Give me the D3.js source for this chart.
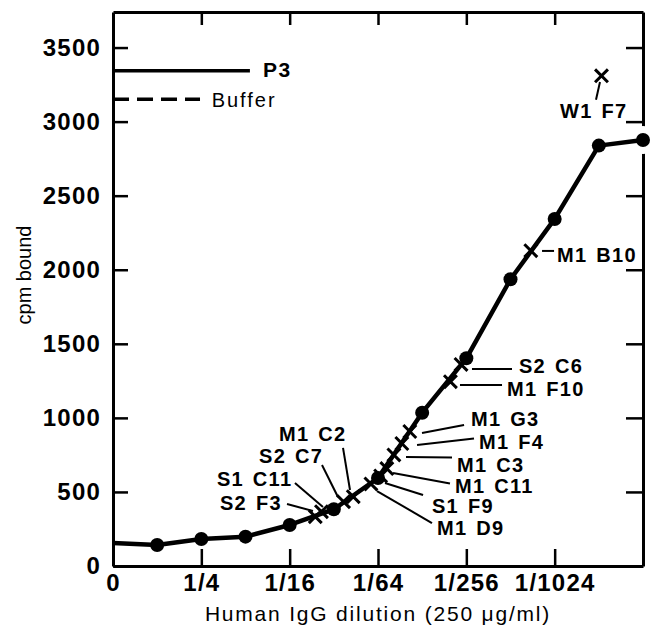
<!DOCTYPE html>
<html>
<head>
<meta charset="utf-8">
<script src="https://cdn.jsdelivr.net/npm/d3@7"></script>
<style>
  body { margin: 0; background: #fff; }
  svg { font-family: "Liberation Sans", Arial, sans-serif; }
</style>
</head>
<body>
<div id="chart"></div>
<script>
// dilution steps: 0 = undiluted, 1 = 1/4, 2 = 1/16 ... (fourfold per step)
var dilStep = [0, 0.5, 1, 1.5, 2, 2.5, 3, 3.5, 4, 4.5, 5, 5.5, 6];
var cpmBound = [155, 142, 182, 198, 277, 383, 594, 1035, 1402, 1936, 2343, 2838, 2876];

var xTickSteps = [0, 1, 2, 3, 4, 5];
var xTickLabels = ["0", "1/4", "1/16", "1/64", "1/256", "1/1024"];
var yTicks = [0, 500, 1000, 1500, 2000, 2500, 3000, 3500];

// hybridoma supernatants (x)
var cloneNames = ["W1 F7", "M1 B10", "S2 C6", "M1 F10", "M1 G3", "M1 F4", "M1 C3",
                  "M1 C11", "S1 F9", "M1 D9", "M1 C2", "S2 C7", "S1 C11", "S2 F3"];
var cloneStep = [5.53, 4.73, 3.94, 3.82, 3.36, 3.27, 3.18, 3.10, 3.03, 2.92, 2.72, 2.61, 2.36, 2.29];
var cloneCpm  = [3309, 2129, 1361, 1244, 908, 827, 750, 658, 608, 554, 468, 434, 367, 333];

// controls
var refNames = ["P3", "Buffer"];
var refCpm = [3344, 3151];

// label layout in data units: text start [step, cpm], leader [from, to]
var labelAt = [[5.06, 3025], [5.027, 2053], [4.596, 1303], [4.461, 1148], [4.053, 942], [4.143, 793],
               [3.894, 635], [3.872, 493], [3.611, 355], [3.668, 209], [1.879, 844], [1.653, 696],
               [1.177, 540], [1.211, 378]];
var leaderFrom = [[5.513, 3268], [4.857, 2127], [4.064, 1330], [3.928, 1222], [3.498, 898], [3.442, 817],
                  [3.317, 736], [3.170, 628], [3.079, 560], [2.989, 506], [2.683, 513], [2.547, 466],
                  [2.377, 398], [2.264, 371]];
var leaderTo = [[5.468, 3147], [4.993, 2127], [4.517, 1330], [4.404, 1222], [3.974, 952], [4.087, 861],
                [3.838, 733], [3.815, 557], [3.510, 479], [3.611, 290], [2.604, 797], [2.366, 682],
                [2.060, 560], [1.970, 419]];
var refEnd = [1.55, 0.985];
var refLabelAt = [[1.698, 3300], [1.117, 3097]];

var W = 652, H = 627;
var x = d3.scaleLinear().domain([0, 6]).range([113, 643]);
var y = d3.scaleLinear().domain([0, 3740]).range([566, 12]);

var svg = d3.select("#chart").append("svg")
    .attr("width", W)
    .attr("height", H);

// axes / frame
var gL = svg.append("g")
    .attr("transform", "translate(" + x(0) + ",0)")
    .call(d3.axisLeft(y).tickValues(yTicks).tickSizeInner(-15).tickSizeOuter(0).tickPadding(12)
      .tickFormat(d3.format("d")));
var gR = svg.append("g")
    .attr("transform", "translate(" + x(6) + ",0)")
    .call(d3.axisRight(y).tickValues(yTicks.slice(1)).tickSizeInner(-17).tickSizeOuter(0).tickFormat(""));
var gB = svg.append("g")
    .attr("transform", "translate(0," + y(0) + ")")
    .call(d3.axisBottom(x).tickValues(xTickSteps).tickSizeInner(-17).tickSizeOuter(0).tickPadding(8)
      .tickFormat(function(d, i) { return xTickLabels[i]; }));
var gT = svg.append("g")
    .attr("transform", "translate(0," + y(3740) + ")")
    .call(d3.axisTop(x).tickValues(xTickSteps.slice(1)).tickSizeInner(-13).tickSizeOuter(0).tickFormat(""));

svg.selectAll(".domain").attr("stroke", "#000").attr("stroke-width", 3);
svg.selectAll(".tick line").attr("stroke", "#000").attr("stroke-width", 2.5);
svg.selectAll(".tick text")
    .attr("fill", "#000")
    .style("font-size", "24px")
    .style("font-weight", "bold")
    .style("letter-spacing", "1.2px");

// gap in the right frame around the last point
svg.append("circle")
    .attr("cx", x(dilStep[dilStep.length - 1]))
    .attr("cy", y(cpmBound[cpmBound.length - 1]))
    .attr("r", 14)
    .attr("fill", "#fff");

// control lines
svg.selectAll(".ref").data(refCpm).enter().append("line")
    .attr("x1", x(0)).attr("x2", function(d, i) { return x(refEnd[i]); })
    .attr("y1", function(d) { return y(d); }).attr("y2", function(d) { return y(d); })
    .attr("stroke", "#000").attr("stroke-width", 3.5)
    .attr("stroke-dasharray", function(d, i) { return i == 1 ? "16,8" : null; });
svg.selectAll(".refLabel").data(refNames).enter().append("text")
    .attr("x", function(d, i) { return x(refLabelAt[i][0]); })
    .attr("y", function(d, i) { return y(refLabelAt[i][1]); })
    .style("font-size", function(d, i) { return i == 0 ? "21px" : "20px"; })
    .style("font-weight", function(d, i) { return i == 0 ? "bold" : "normal"; })
    .style("letter-spacing", function(d, i) { return i == 0 ? "1.5px" : "2px"; })
    .text(function(d) { return d; });

// titration curve
var pts = dilStep.map(function(d, i) { return [d, cpmBound[i]]; });
var line = d3.line()
    .x(function(d) { return x(d[0]); })
    .y(function(d) { return y(d[1]); });
svg.append("path")
    .datum(pts)
    .attr("fill", "none")
    .attr("stroke", "#000")
    .attr("stroke-width", 4.5)
    .attr("stroke-linejoin", "round")
    .attr("d", line);
svg.selectAll(".dot").data(pts.slice(1)).enter().append("circle")
    .attr("cx", function(d) { return x(d[0]); })
    .attr("cy", function(d) { return y(d[1]); })
    .attr("r", 7)
    .attr("fill", "#000");

// clones
var cross = d3.symbol().type(d3.symbolX).size(110);
svg.selectAll(".clone").data(cloneNames).enter().append("path")
    .attr("d", cross)
    .attr("transform", function(d, i) { return "translate(" + x(cloneStep[i]) + "," + y(cloneCpm[i]) + ")"; })
    .attr("fill", "none")
    .attr("stroke", "#000")
    .attr("stroke-width", 3);

svg.selectAll(".leader").data(cloneNames).enter().append("line")
    .attr("x1", function(d, i) { return x(leaderFrom[i][0]); })
    .attr("y1", function(d, i) { return y(leaderFrom[i][1]); })
    .attr("x2", function(d, i) { return x(leaderTo[i][0]); })
    .attr("y2", function(d, i) { return y(leaderTo[i][1]); })
    .attr("stroke", "#000")
    .attr("stroke-width", 2);

svg.selectAll(".cloneLabel").data(cloneNames).enter().append("text")
    .attr("x", function(d, i) { return x(labelAt[i][0]); })
    .attr("y", function(d, i) { return y(labelAt[i][1]); })
    .style("font-size", "20px")
    .style("font-weight", "bold")
    .style("letter-spacing", "1.3px")
    .style("word-spacing", "2px")
    .text(function(d) { return d; });

// axis titles
svg.append("text")
    .attr("x", 378)
    .attr("y", 621)
    .attr("text-anchor", "middle")
    .style("font-size", "21px")
    .style("letter-spacing", "1.8px")
    .text("Human IgG dilution (250 \u03bcg/ml)");

svg.append("text")
    .attr("transform", "translate(31,275) rotate(-90)")
    .attr("text-anchor", "middle")
    .style("font-size", "20px")
    .text("cpm bound");
</script>
</body>
</html>
